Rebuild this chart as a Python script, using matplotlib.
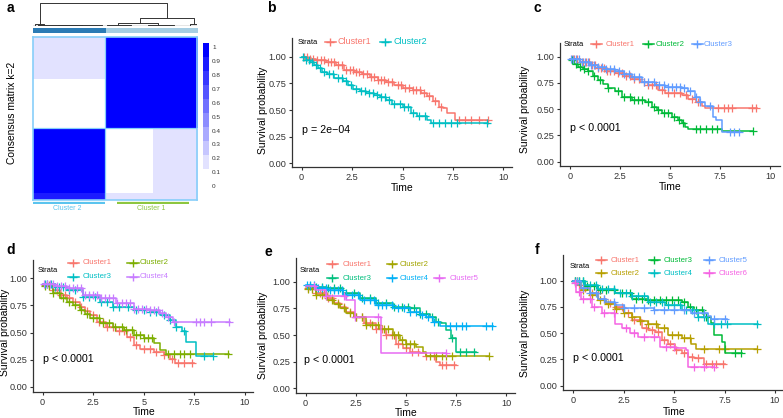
import numpy as np
import matplotlib
matplotlib.use("Agg")
import matplotlib.pyplot as plt
from matplotlib.colors import ListedColormap, LinearSegmentedColormap
from matplotlib.lines import Line2D

plt.rcParams['font.family'] = ['Liberation Sans', 'DejaVu Sans']

# ---------------- data: panel a (consensus matrix) ----------------
hm_row_edges = [0, 26, 56, 96, 100]
hm_col_edges = [0, 44, 73, 97, 100]
hm_block = [[0.12, 0.92, 0.97, 0.90],
            [0.03, 0.97, 0.92, 0.90],
            [0.95, 0.00, 0.12, 0.10],
            [0.85, 0.12, 0.15, 0.12]]
# dendrogram links: x_left, x_right, h_left, h_right, h_top
dend_links = [(0.04, 0.815, 0.10, 0.33, 1.0),
              (0.65, 0.98, 0.12, 0.08, 0.33),
              (0.52, 0.76, 0.03, 0.05, 0.14),
              (0.96, 1.0, 0.0, 0.0, 0.08),
              (0.01, 0.07, 0.02, 0.06, 0.10),
              (0.03, 0.30, 0.03, 0.02, 0.06),
              (0.15, 0.42, 0.0, 0.01, 0.04),
              (0.45, 0.60, 0.0, 0.0, 0.03),
              (0.70, 0.86, 0.0, 0.0, 0.05)]
cluster_split = 0.44
cbar_labels = ['1', '0.9', '0.8', '0.7', '0.6', '0.5', '0.4', '0.3', '0.2', '0.1', '0']
cluster_names = ['Cluster 2', 'Cluster 1']
cluster_bars = [(0.0, 0.44), (0.51, 0.95)]

# ---------------- data: survival panels ----------------
b_times = [[0, 0.3, 0.7, 1.2, 1.7, 2.1, 2.6, 3.0, 3.4, 3.8, 4.2, 4.6, 5.0, 5.5, 5.9, 6.2, 6.5, 6.8, 7.0, 7.2, 7.6],
           [0, 0.2, 0.4, 0.6, 0.83, 1.0, 1.24, 1.6, 2.07, 2.3, 2.56, 2.9, 3.2, 3.6, 3.9, 4.2, 4.5, 5.0, 5.4, 5.7, 6.2, 6.4]]
b_surv = [[1.0, 0.98, 0.965, 0.95, 0.92, 0.88, 0.86, 0.84, 0.81, 0.78, 0.76, 0.73, 0.71, 0.69, 0.66, 0.63, 0.58, 0.53, 0.52, 0.47, 0.41],
          [1.0, 0.97, 0.95, 0.92, 0.89, 0.86, 0.84, 0.80, 0.77, 0.73, 0.70, 0.68, 0.66, 0.64, 0.625, 0.59, 0.56, 0.53, 0.47, 0.44, 0.41, 0.375]]
b_cens = [[0.1, 0.25, 0.4, 0.55, 0.75, 0.95, 1.1, 1.3, 1.45, 1.6, 1.8, 2.0, 2.2, 2.4, 2.55, 2.7, 2.85, 3.05, 3.25, 3.45, 3.6,
           3.8, 3.95, 4.1, 4.3, 4.5, 4.75, 4.9, 5.1, 5.3, 5.5, 5.65, 5.85, 6.05, 6.3, 6.6, 6.9, 7.8, 8.1, 8.4, 8.8, 9.25],
          [0.05, 0.2, 0.35, 0.5, 0.7, 0.9, 1.1, 1.35, 1.55, 1.8, 2.0, 2.2, 2.45, 2.7, 2.95, 3.15, 3.35, 3.55, 3.75, 3.95,
           4.15, 4.35, 4.6, 4.85, 5.05, 5.25, 5.5, 5.8, 6.1, 6.5, 6.8, 7.1, 7.4, 7.7, 9.2]]
b_end = [9.25, 9.2]
b_labels = ['Cluster1', 'Cluster2']
b_colors = ['#F8766D', '#00BFC4']

c_times = [[0, 0.5, 1.0, 1.4, 1.8, 2.25, 2.7, 3.1, 3.5, 3.9, 4.4, 4.75, 5.6, 5.9, 6.3, 6.6, 6.75],
           [0, 0.2, 0.4, 0.65, 0.9, 1.15, 1.4, 1.65, 1.9, 2.25, 2.6, 3.1, 3.75, 4.1, 4.35, 4.6, 5.1, 5.4, 5.6, 5.75, 5.9, 7.6],
           [0, 0.5, 1.0, 1.4, 1.8, 2.25, 2.7, 3.1, 3.6, 4.25, 4.75, 5.6, 5.9, 6.25, 6.5, 6.75, 7.15, 7.3, 7.6]]
c_surv = [[0.975, 0.95, 0.92, 0.89, 0.865, 0.84, 0.815, 0.79, 0.76, 0.73, 0.68, 0.65, 0.635, 0.60, 0.57, 0.53, 0.51],
          [0.97, 0.93, 0.90, 0.88, 0.86, 0.82, 0.78, 0.74, 0.70, 0.67, 0.62, 0.59, 0.57, 0.52, 0.49, 0.46, 0.43, 0.40, 0.365, 0.33, 0.31, 0.295],
          [0.98, 0.95, 0.92, 0.90, 0.88, 0.86, 0.835, 0.81, 0.76, 0.73, 0.71, 0.70, 0.67, 0.62, 0.57, 0.53, 0.43, 0.40, 0.28]]
c_cens = [[0.1, 0.2, 0.35, 0.5, 0.65, 0.8, 0.95, 1.1, 1.25, 1.4, 1.55, 1.7, 1.85, 2.0, 2.2, 2.4, 2.6, 2.8, 3.0, 3.2, 3.45,
           3.7, 3.9, 4.1, 4.3, 4.6, 4.9, 5.2, 5.5, 5.8, 6.1, 6.4, 7.4, 7.7, 7.9, 8.1, 9.1, 9.3],
          [0.1, 0.3, 0.5, 0.7, 0.9, 1.2, 1.5, 1.9, 2.4, 2.7, 3.0, 3.2, 3.4, 3.6, 3.9, 4.2, 4.4, 4.7, 4.9, 5.2, 5.45, 5.65,
           6.3, 6.5, 6.8, 7.1, 7.35, 9.15],
          [0.05, 0.15, 0.3, 0.45, 0.6, 0.75, 0.9, 1.05, 1.2, 1.4, 1.6, 1.8, 2.0, 2.2, 2.45, 2.7, 2.95, 3.2, 3.45, 3.7, 3.9,
           4.2, 4.45, 4.7, 4.9, 5.1, 5.3, 5.5, 5.7, 6.0, 6.3, 6.5, 7.0, 8.0, 8.2, 8.45]]
c_end = [9.33, 9.17, 8.5]
c_labels = ['Cluster1', 'Cluster2', 'Cluster3']
c_colors = ['#F8766D', '#00BA38', '#619CFF']

d_times = [[0, 0.5, 0.85, 1.2, 1.5, 1.85, 2.1, 2.35, 2.7, 3.15, 3.65, 4.15, 4.5, 4.8, 5.5, 6.0, 6.3, 6.55],
           [0, 0.5, 0.85, 1.2, 1.5, 1.85, 2.1, 2.35, 2.85, 3.5, 4.0, 4.5, 5.0, 5.5, 5.8, 6.1],
           [0, 0.6, 1.2, 2.0, 2.85, 3.5, 4.5, 5.3, 5.8, 6.3, 6.6, 6.87, 7.1, 7.6],
           [0, 0.6, 1.2, 2.0, 2.85, 3.65, 4.5, 5.3, 5.8, 6.1, 6.45]]
d_surv = [[0.94, 0.89, 0.85, 0.815, 0.78, 0.74, 0.70, 0.66, 0.60, 0.55, 0.51, 0.46, 0.385, 0.35, 0.32, 0.29, 0.26, 0.215],
          [0.93, 0.86, 0.82, 0.785, 0.75, 0.71, 0.67, 0.63, 0.585, 0.555, 0.52, 0.48, 0.45, 0.40, 0.34, 0.30],
          [0.95, 0.92, 0.89, 0.83, 0.785, 0.74, 0.71, 0.69, 0.66, 0.615, 0.555, 0.51, 0.415, 0.28],
          [0.95, 0.93, 0.91, 0.85, 0.815, 0.77, 0.72, 0.71, 0.68, 0.645, 0.60]]
d_cens = [[0.1, 0.3, 0.5, 0.7, 0.9, 1.1, 1.3, 1.6, 1.9, 2.2, 2.5, 2.8, 3.0, 3.2, 3.5, 3.8, 4.0, 4.3, 4.6, 5.0, 5.3, 5.6,
           6.0, 6.4, 6.7, 7.0, 7.4],
          [0.1, 0.3, 0.5, 0.8, 1.0, 1.3, 1.6, 1.9, 2.2, 2.5, 2.8, 3.0, 3.3, 3.6, 3.9, 4.1, 4.4, 4.6, 4.8, 5.0, 5.2, 5.4,
           6.2, 6.5, 6.8, 7.0, 7.3, 9.15],
          [0.1, 0.2, 0.4, 0.6, 0.8, 1.0, 1.3, 1.6, 2.0, 2.3, 2.6, 2.9, 3.2, 3.5, 3.8, 4.2, 4.6, 5.0, 5.3, 5.6, 6.0, 6.3,
           6.6, 7.0, 8.0, 8.4],
          [0.05, 0.2, 0.35, 0.5, 0.7, 0.9, 1.1, 1.3, 1.5, 1.7, 1.9, 2.1, 2.3, 2.5, 2.7, 2.9, 3.1, 3.3, 3.5, 3.7, 3.9, 4.1,
           4.3, 4.5, 4.7, 4.9, 5.1, 5.3, 5.5, 5.7, 5.9, 6.2, 6.5, 7.6, 7.8, 8.0, 8.3, 9.2]]
d_end = [7.5, 9.2, 8.4, 9.26]
d_labels = ['Cluster1', 'Cluster2', 'Cluster3', 'Cluster4']
d_colors = ['#F8766D', '#7CAE00', '#00BFC4', '#C77CFF']

e_times = [[0, 0.5, 1.05, 1.4, 1.7, 2.0, 2.4, 2.9, 3.5, 4.0, 4.5, 4.85, 5.2, 5.7, 6.0, 6.5, 6.7],
           [0, 0.5, 1.05, 1.4, 1.7, 2.0, 2.4, 3.0, 3.7, 4.35, 4.7, 5.0, 5.5, 5.85, 6.0],
           [0, 0.5, 1.05, 1.87, 2.7, 3.5, 4.35, 5.2, 5.7, 6.2, 6.5, 6.75, 7.0, 7.25, 7.5],
           [0, 0.5, 1.05, 1.87, 2.7, 3.5, 4.35, 5.2, 5.7, 6.0, 6.35, 6.7],
           [0, 0.5, 1.0, 2.0, 2.45, 3.75]]
e_surv = [[0.94, 0.89, 0.845, 0.80, 0.765, 0.72, 0.67, 0.61, 0.56, 0.50, 0.42, 0.375, 0.345, 0.33, 0.30, 0.25, 0.22],
          [0.93, 0.88, 0.83, 0.79, 0.75, 0.71, 0.67, 0.595, 0.56, 0.50, 0.455, 0.42, 0.39, 0.345, 0.30],
          [0.96, 0.95, 0.94, 0.89, 0.845, 0.80, 0.765, 0.75, 0.70, 0.67, 0.625, 0.61, 0.545, 0.47, 0.34],
          [0.97, 0.94, 0.92, 0.875, 0.83, 0.78, 0.75, 0.72, 0.69, 0.67, 0.625, 0.585],
          [0.96, 0.92, 0.87, 0.83, 0.67, 0.33]]
e_cens = [[0.1, 0.3, 0.5, 0.7, 0.9, 1.1, 1.3, 1.6, 1.9, 2.2, 2.5, 2.8, 3.0, 3.2, 3.5, 3.8, 4.0, 4.3, 4.6, 5.0, 5.3, 5.6,
           6.0, 6.4, 6.8, 7.0, 7.4],
          [0.1, 0.3, 0.5, 0.8, 1.0, 1.3, 1.6, 1.9, 2.2, 2.5, 2.8, 3.0, 3.3, 3.6, 3.9, 4.1, 4.4, 4.6, 4.8, 5.0, 5.2, 5.4,
           6.2, 6.5, 6.8, 7.0, 7.3, 9.15],
          [0.2, 0.5, 0.8, 1.1, 1.4, 1.7, 2.0, 2.4, 2.8, 3.2, 3.6, 4.0, 4.4, 4.8, 5.1, 5.4, 5.7, 6.0, 6.3, 6.6, 7.3, 7.7,
           8.0, 8.4],
          [0.05, 0.2, 0.4, 0.6, 0.8, 1.0, 1.2, 1.4, 1.6, 1.8, 2.0, 2.3, 2.6, 2.9, 3.2, 3.4, 3.6, 3.8, 4.0, 4.3, 4.6, 4.9,
           5.2, 5.5, 5.8, 6.1, 6.4, 7.2, 7.5, 7.8, 8.0, 9.0, 9.3],
          [0.4, 1.0, 1.9, 2.45, 3.6, 7.0]]
e_end = [7.5, 9.17, 8.5, 9.33, 7.0]
e_labels = ['Cluster1', 'Cluster2', 'Cluster3', 'Cluster4', 'Cluster5']
e_colors = ['#F8766D', '#A3A500', '#00BF7D', '#00B0F6', '#E76BF3']

f_times = [[0, 0.2, 0.4, 0.8, 1.24, 1.6, 2.07, 2.5, 2.9, 3.4, 3.7, 4.05, 4.4, 4.7, 5.05, 5.4, 5.7, 6.0, 6.5],
           [0, 0.4, 0.8, 1.24, 1.6, 2.07, 2.5, 2.9, 3.3, 3.7, 4.2, 4.7, 5.4, 5.85, 6.1],
           [0, 0.6, 1.24, 2.07, 2.9, 3.7, 5.4, 5.7, 6.0, 6.5, 6.85, 7.0, 7.35, 7.5],
           [0, 0.6, 1.24, 2.07, 2.9, 3.7, 4.55, 5.4, 6.2, 6.7],
           [0, 0.4, 0.8, 1.24, 1.6, 2.07, 2.5, 4.0, 5.85, 6.7, 6.85],
           [0, 0.15, 0.4, 0.9, 1.4, 2.07, 2.4, 2.8, 3.2, 4.3, 5.05, 5.6, 5.7]]
f_surv = [[1.0, 0.96, 0.93, 0.88, 0.83, 0.79, 0.75, 0.69, 0.625, 0.545, 0.53, 0.515, 0.435, 0.40, 0.34, 0.31, 0.275, 0.26, 0.21],
          [1.0, 0.91, 0.86, 0.815, 0.775, 0.735, 0.695, 0.655, 0.62, 0.59, 0.545, 0.48, 0.45, 0.40, 0.345],
          [1.0, 0.95, 0.91, 0.88, 0.83, 0.815, 0.80, 0.75, 0.72, 0.655, 0.595, 0.48, 0.42, 0.31],
          [1.0, 0.96, 0.925, 0.88, 0.85, 0.80, 0.77, 0.72, 0.655, 0.585],
          [1.0, 0.93, 0.88, 0.83, 0.80, 0.77, 0.74, 0.72, 0.69, 0.66, 0.64],
          [0.98, 0.89, 0.83, 0.75, 0.69, 0.59, 0.545, 0.50, 0.465, 0.37, 0.355, 0.34, 0.18]]
f_cens = [[0.1, 0.3, 0.6, 0.9, 1.2, 1.5, 1.8, 2.1, 2.4, 2.7, 3.0, 3.3, 3.6, 3.9, 4.2, 4.5, 4.8, 5.1, 5.5, 5.9, 6.2,
           6.6, 6.9, 7.1, 7.4],
          [0.2, 0.5, 0.9, 1.3, 1.7, 2.1, 2.5, 2.9, 3.3, 3.7, 4.1, 4.5, 4.9, 5.2, 5.5, 5.8, 6.5, 7.2, 7.5, 9.1],
          [0.1, 0.3, 0.5, 0.7, 1.0, 1.3, 1.6, 2.0, 2.4, 2.8, 3.1, 3.4, 3.7, 4.0, 4.3, 4.6, 4.9, 5.2, 5.5, 5.8, 6.1, 6.4,
           6.6, 8.0, 8.3],
          [0.1, 0.3, 0.5, 0.8, 1.1, 1.4, 1.7, 2.0, 2.3, 2.6, 2.9, 3.2, 3.5, 3.8, 4.1, 4.4, 4.7, 5.0, 5.3, 5.6, 5.9, 6.2,
           6.5, 7.0, 7.3, 7.6, 9.1],
          [0.2, 0.5, 0.8, 1.1, 1.5, 2.0, 2.5, 3.0, 3.5, 4.0, 4.5, 5.0, 5.5, 6.0, 6.5, 7.0, 7.5],
          [0.1, 0.3, 0.5, 0.8, 1.0, 1.5, 2.0, 2.6, 3.0, 3.5, 4.0, 4.6, 5.0, 6.0, 6.5, 7.0]]
f_end = [7.5, 9.1, 8.35, 9.17, 7.6, 7.0]
f_labels = ['Cluster1', 'Cluster2', 'Cluster3', 'Cluster4', 'Cluster5', 'Cluster6']
f_colors = ['#F8766D', '#B79F00', '#00BA38', '#00BFC4', '#619CFF', '#F564E3']

x_ticks = [0, 2.5, 5, 7.5, 10]
x_ticklabels = ['0', '2.5', '5', '7.5', '10']
y_ticks = [0, 0.25, 0.5, 0.75, 1.0]
y_ticklabels = ['0.00', '0.25', '0.50', '0.75', '1.00']

W, H = 783, 418
fig = plt.figure(figsize=(W / 100, H / 100), dpi=100)


def box(l, t, r, b):
    # pixel box (from top-left) -> figure fraction
    return [l / W, 1 - b / H, (r - l) / W, (b - t) / H]


def ftext(x, y, s, **kw):
    fig.text(x / W, 1 - y / H, s, **kw)


# ---------------- panel a ----------------
mat = np.zeros((100, 100))
for i in range(4):
    for j in range(4):
        mat[hm_row_edges[i]:hm_row_edges[i + 1], hm_col_edges[j]:hm_col_edges[j + 1]] = hm_block[i][j]

cmap = LinearSegmentedColormap.from_list('cc', ['#ffffff', '#0000ff'], N=10)
ax = fig.add_axes(box(33, 37, 197, 200))
ax.imshow(mat, cmap=cmap, vmin=0, vmax=1, aspect='auto', interpolation='nearest',
          extent=[0, 1, 1, 0])
ax.axhline(hm_row_edges[2] / 100, color='#87CEFA', lw=0.9)
ax.axvline(cluster_split, color='#87CEFA', lw=0.9)
ax.set_xlim(0, 1)
ax.set_ylim(1, 0)
ax.set_xticks([])
ax.set_yticks([])
for sp in ax.spines.values():
    sp.set_color('#87CEFA')
    sp.set_linewidth(1.2)

# dendrogram
axd = fig.add_axes(box(33, 2.5, 197, 26))
for xl, xr, hl, hr, ht in dend_links:
    axd.plot([xl, xl, xr, xr], [hl, ht, ht, hr], color='#333333', lw=0.7)
axd.plot([0, 1], [0.0, 0.0], color='#333333', lw=0.9)
axd.set_xlim(0, 1)
axd.set_ylim(0, 1.0)
axd.axis('off')

# cluster colour strip
axs = fig.add_axes(box(33, 28, 197, 33))
strip = np.where(np.arange(100) / 100 < cluster_split, 0, 1)[None, :]
axs.imshow(strip, cmap=ListedColormap(['#2B7BB5', '#A6CEE3']), aspect='auto',
           interpolation='nearest', extent=[0, 1, 0, 1])
axs.axis('off')

# colour bar
axc = fig.add_axes(box(203, 43.3, 208.5, 183.3))
axc.imshow(np.linspace(0, 1, 10)[:, None], cmap=cmap, aspect='auto', origin='lower',
           interpolation='nearest', extent=[0, 1, 0, 1])
axc.axis('off')
for k, lab in enumerate(cbar_labels):
    ftext(212, 47.7 + 13.9 * k, lab, fontsize=4.6, color='#333333', va='center')

# cluster bars under the heatmap
axb = fig.add_axes(box(33, 201, 197, 204))
bar_cols = ['#5BC4EE', '#8DC63F']
for (x0, x1), col, name in zip(cluster_bars, bar_cols, cluster_names):
    axb.plot([x0, x1], [0.5, 0.5], color=col, lw=1.6, solid_capstyle='butt')
    axb.text((x0 + x1) / 2 - 0.01, -1.4, name, color=col, fontsize=5, ha='center', va='center',
             clip_on=False)
axb.set_xlim(0, 1)
axb.set_ylim(0, 1)
axb.axis('off')

ftext(12, 113, 'Consensus matrix k=2', rotation=90, fontsize=7.4, ha='center', va='center')
ftext(10, 8, 'a', fontsize=10, fontweight='bold', ha='center', va='center')


# ---------------- survival panels ----------------
def km_panel(px, xlim, ylim, times, surv, cens, ends, colors):
    a = fig.add_axes(box(*px))
    for t, s, c, e, col in zip(times, surv, cens, ends, colors):
        t = np.array(t)
        s = np.array(s)
        a.step(np.append(t, e), np.append(s, s[-1]), where='post', color=col, lw=1.1)
        idx = np.searchsorted(t, np.array(c), side='right') - 1
        a.plot(c, s[idx], '+', color=col, ms=5.5, mew=0.9, ls='none')
    a.set_xlim(*xlim)
    a.set_ylim(*ylim)
    a.set_xticks(x_ticks)
    a.set_xticklabels(x_ticklabels)
    a.set_yticks(y_ticks)
    a.set_yticklabels(y_ticklabels)
    for sp in ['top', 'right']:
        a.spines[sp].set_visible(False)
    for sp in ['left', 'bottom']:
        a.spines[sp].set_linewidth(0.9)
        a.spines[sp].set_color('#333333')
    a.tick_params(length=2.5, width=0.8, labelsize=6.6, pad=1.8, color='#333333',
                  labelcolor='#333333')
    a.patch.set_alpha(0)
    return a


def legend(strata_x, strata_y, entries, fs=5.6):
    ftext(strata_x, strata_y, 'Strata', fontsize=5.4, va='center', ha='left')
    for mx, tx, y, lab, col in entries:
        xs = np.array([mx - 5.5, mx, mx + 5.5]) / W
        ys = np.full(3, 1 - y / H)
        fig.add_artist(Line2D(xs, ys, color=col, lw=1.1, marker='+', ms=5.5, mew=1.0,
                              markevery=[1], transform=fig.transFigure))
        ftext(tx, y, lab, fontsize=fs, color=col, va='center', ha='left')


def labels(ylab_x, ymid, time_x, time_y, letter_xy, p_xy, ptxt):
    ftext(ylab_x, ymid, 'Survival probability', rotation=90, fontsize=7.5, ha='center', va='center')
    ftext(time_x, time_y, 'Time', fontsize=7.5, ha='center', va='center')
    ftext(letter_xy[0], letter_xy[1], letter_xy[2], fontsize=10, fontweight='bold',
          ha='center', va='center')
    ftext(p_xy[0], p_xy[1], ptxt, fontsize=7.7, ha='left', va='center')


# b
km_panel((292, 38.3, 511.7, 167), (-0.48, 10.41), (-0.035, 1.173),
         b_times, b_surv, b_cens, b_end, b_colors)
legend(298, 42, [(330, 337, 42, b_labels[0], b_colors[0]),
                 (385, 393, 42, b_labels[1], b_colors[1])], fs=6.5)
labels(263, 110, 402.5, 188, (271, 8, 'b'), (302, 130), 'p = 2e\u221204')

# c
km_panel((560, 42.7, 780, 165.7), (-0.5, 10.5), (-0.038, 1.133),
         c_times, c_surv, c_cens, c_end, c_colors)
legend(564, 44, [(596, 606, 44, c_labels[0], c_colors[0]),
                 (648, 656, 44, c_labels[1], c_colors[1]),
                 (697, 704, 44, c_labels[2], c_colors[2])])
labels(525, 109, 670, 187, (537, 8, 'c'), (570, 128), 'p < 0.0001')

# d
km_panel((33.3, 260, 253, 391.7), (-0.46, 10.4), (-0.046, 1.169),
         d_times, d_surv, d_cens, d_end, d_colors)
legend(38, 271, [(73, 83, 262.7, d_labels[0], d_colors[0]),
                 (133, 140, 262.7, d_labels[1], d_colors[1]),
                 (73, 83, 276.7, d_labels[2], d_colors[2]),
                 (133, 140, 276.7, d_labels[3], d_colors[3])])
labels(5, 332.5, 143.8, 411.7, (11, 250, 'd'), (43, 359), 'p < 0.0001')

# e
km_panel((296, 258.3, 515, 392.7), (-0.48, 10.45), (-0.041, 1.22),
         e_times, e_surv, e_cens, e_end, e_colors)
legend(300, 270, [(332, 343, 264, e_labels[0], e_colors[0]),
                  (392, 400, 264, e_labels[1], e_colors[1]),
                  (332, 343, 278.3, e_labels[2], e_colors[2]),
                  (392, 400, 278.3, e_labels[3], e_colors[3]),
                  (439, 450, 278.3, e_labels[4], e_colors[4])])
labels(263, 335, 406.2, 413, (268, 252, 'e'), (304, 360), 'p < 0.0001')

# f
km_panel((563.3, 255, 783, 390), (-0.5, 10.4), (-0.041, 1.245),
         f_times, f_surv, f_cens, f_end, f_colors)
legend(570, 267, [(601, 611, 260, f_labels[0], f_colors[0]),
                  (654, 664, 260, f_labels[2], f_colors[2]),
                  (709, 719, 260, f_labels[4], f_colors[4]),
                  (601, 611, 273.3, f_labels[1], f_colors[1]),
                  (654, 664, 273.3, f_labels[3], f_colors[3]),
                  (709, 719, 273.3, f_labels[5], f_colors[5])])
labels(525, 333, 674, 411.7, (537, 250, 'f'), (573, 358), 'p < 0.0001')

fig.savefig('out.png', dpi=100)
